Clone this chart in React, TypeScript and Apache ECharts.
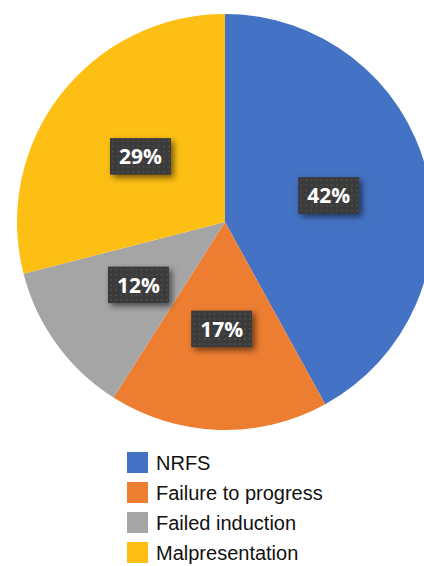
import React, { useEffect, useRef } from "react";
import * as echarts from "echarts";

const categories = ["NRFS", "Failure to progress", "Failed induction", "Malpresentation"];
const values = [42, 17, 12, 29];
const colors = ["#4472C4", "#ED7D31", "#A5A5A5", "#FDBF14"];

function makeTexture(): string {
  const c = document.createElement("canvas");
  c.width = 60;
  c.height = 36;
  const ctx = c.getContext("2d");
  if (!ctx) return "";
  ctx.fillStyle = "#3a3a3a";
  ctx.fillRect(0, 0, 60, 36);
  ctx.fillStyle = "#4a4a4a";
  for (let y = 2; y < 36; y += 5) {
    for (let x = 2; x < 60; x += 5) {
      ctx.fillRect(x, y, 2, 2);
    }
  }
  return c.toDataURL();
}

export default function App() {
  const ref = useRef<HTMLDivElement>(null);
  useEffect(() => {
    document.body.style.margin = "0";
    if (!ref.current) return;
    const chart = echarts.init(ref.current, undefined, { renderer: "svg" });
    const tex = makeTexture();
    chart.setOption({
      animation: false,
      legend: {
        orient: "vertical",
        left: 127,
        top: 452,
        height: 120,
        padding: 0,
        itemWidth: 21,
        itemHeight: 21,
        itemGap: 9,
        icon: "rect",
        selectedMode: false,
        textStyle: {
          fontFamily: "Liberation Sans, Arial, sans-serif",
          fontSize: 20,
          color: "#111",
          padding: [0, 0, 0, 3],
          lineHeight: 21,
        },
        data: categories,
      },
      series: [
        {
          type: "pie",
          center: [225, 222],
          radius: 208,
          startAngle: 90,
          clockwise: true,
          avoidLabelOverlap: false,
          itemStyle: { borderWidth: 0 },
          emphasis: { disabled: true },
          label: {
            show: true,
            position: "inside",
            formatter: (p: any) => Math.round(p.percent) + "%",
            color: "#ffffff",
            fontFamily: "Open Sans, sans-serif",
            fontWeight: "bold",
            fontSize: 21,
            backgroundColor: tex ? { image: tex } : "#3a3a3a",
            padding: [9, 9, 8, 9],
            shadowColor: "rgba(0,0,0,0.55)",
            shadowBlur: 6,
            shadowOffsetX: 3,
            shadowOffsetY: 3,
          },
          labelLine: { show: false },
          data: categories.map((n, i) => ({
            name: n,
            value: values[i],
            itemStyle: { color: colors[i] },
          })),
        },
      ],
    });
    return () => chart.dispose();
  }, []);
  return (
    <div
      ref={ref}
      style={{ position: "absolute", left: 0, top: 0, width: 424, height: 566, background: "#fff" }}
    />
  );
}
